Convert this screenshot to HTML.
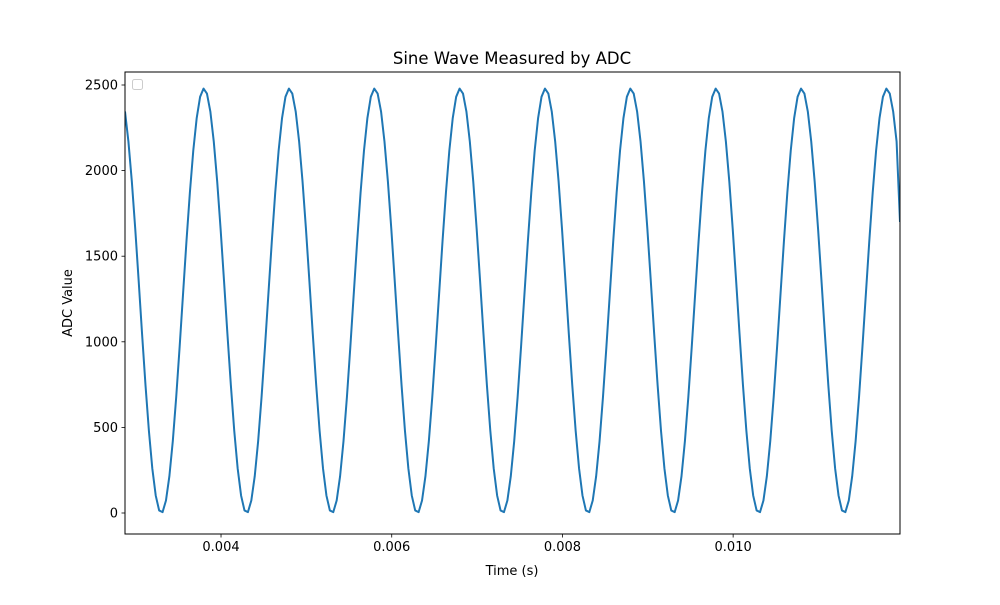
<!DOCTYPE html>
<html><head><meta charset="utf-8"><style>
body{margin:0;background:#fff;font-family:"Liberation Sans","DejaVu Sans",sans-serif;}
svg text{font-family:"DejaVu Sans","Liberation Sans",sans-serif;}
</style></head><body>
<svg id="chart" width="1000" height="600">
</svg>
<script>
const times0 = 0.002875, dtStep = 0.00004;
const adcValues = [
2345,2170,1937,1660,1357,1046,748,480,260,102,15,5,73,215,420,677,970,1279,1586,1871,2117,2307,2431,2479,2450,
2345,2170,1937,1660,1357,1046,748,480,260,102,15,5,73,215,420,677,970,1279,1586,1871,2117,2307,2431,2479,2450,
2345,2170,1937,1660,1357,1046,748,480,260,102,15,5,73,215,420,677,970,1279,1586,1871,2117,2307,2431,2479,2450,
2345,2170,1937,1660,1357,1046,748,480,260,102,15,5,73,215,420,677,970,1279,1586,1871,2117,2307,2431,2479,2450,
2345,2170,1937,1660,1357,1046,748,480,260,102,15,5,73,215,420,677,970,1279,1586,1871,2117,2307,2431,2479,2450,
2345,2170,1937,1660,1357,1046,748,480,260,102,15,5,73,215,420,677,970,1279,1586,1871,2117,2307,2431,2479,2450,
2345,2170,1937,1660,1357,1046,748,480,260,102,15,5,73,215,420,677,970,1279,1586,1871,2117,2307,2431,2479,2450,
2345,2170,1937,1660,1357,1046,748,480,260,102,15,5,73,215,420,677,970,1279,1586,1871,2117,2307,2431,2479,2450,
2345,2170,1937,1660,1357,1046,748,480,260,102,15,5,73,215,420,677,970,1279,1586,1871,2117,2307,2431,2479,2450,
2345,2170,1700
];
const xTicks = [0.004,0.006,0.008,0.010];
const xTickLabels = ["0.004","0.006","0.008","0.010"];
const yTicks = [0,500,1000,1500,2000,2500];
const yTickLabels = ["0","500","1000","1500","2000","2500"];

const NS="http://www.w3.org/2000/svg";
const svg=document.getElementById('chart');
const L=125,R=900,T=72,B=534;
const xMin=times0, xMax=times0+dtStep*(adcValues.length-1);
const xs=t=>L+(t-xMin)/(xMax-xMin)*(R-L);
const ys=v=>513-v*0.1712;
function mk(tag,attrs){const e=document.createElementNS(NS,tag);for(const k in attrs)e.setAttribute(k,attrs[k]);svg.appendChild(e);return e;}

const clip=mk('clipPath',{id:'c'});
const cr=document.createElementNS(NS,'rect');cr.setAttribute('x',L);cr.setAttribute('y',T);cr.setAttribute('width',R-L);cr.setAttribute('height',B-T);clip.appendChild(cr);

let d='';
adcValues.forEach((v,i)=>{d+=(i?'L':'M')+xs(times0+i*dtStep).toFixed(2)+','+ys(v).toFixed(2);});
const line=mk('path',{d:d,fill:'none',stroke:'#1f77b4','stroke-width':2,'clip-path':'url(#c)','stroke-linejoin':'round'});



const frame=mk('rect',{x:L,y:T,width:R-L,height:B-T,fill:'none',stroke:'#000','stroke-width':1});



xTicks.forEach((t,i)=>{const x=xs(t);
mk('line',{x1:x,x2:x,y1:B,y2:B+3.5,stroke:'#000','stroke-width':0.8});
const tx=mk('text',{x:x,y:B+17,'text-anchor':'middle','font-size':'13px'});tx.textContent=xTickLabels[i];

});
yTicks.forEach((v,i)=>{const y=ys(v);
mk('line',{x1:L-3.5,x2:L,y1:y,y2:y,stroke:'#000','stroke-width':0.8});
const tx=mk('text',{x:L-7,y:y+4.5,'text-anchor':'end','font-size':'13px'});tx.textContent=yTickLabels[i];

});

const title=mk('text',{x:512,y:64,'text-anchor':'middle','font-size':'16.5px'});title.textContent='Sine Wave Measured by ADC';


const xl=mk('text',{x:512,y:575,'text-anchor':'middle','font-size':'13px'});xl.textContent='Time (s)';


const yl=mk('text',{x:72,y:303,'text-anchor':'middle','font-size':'13px',transform:'rotate(-90 72 303)'});yl.textContent='ADC Value';


const lg=mk('rect',{x:132.5,y:79.5,width:10,height:10,rx:2,fill:'#fff',stroke:'#ccc','stroke-width':1});


</script>
</body></html>
